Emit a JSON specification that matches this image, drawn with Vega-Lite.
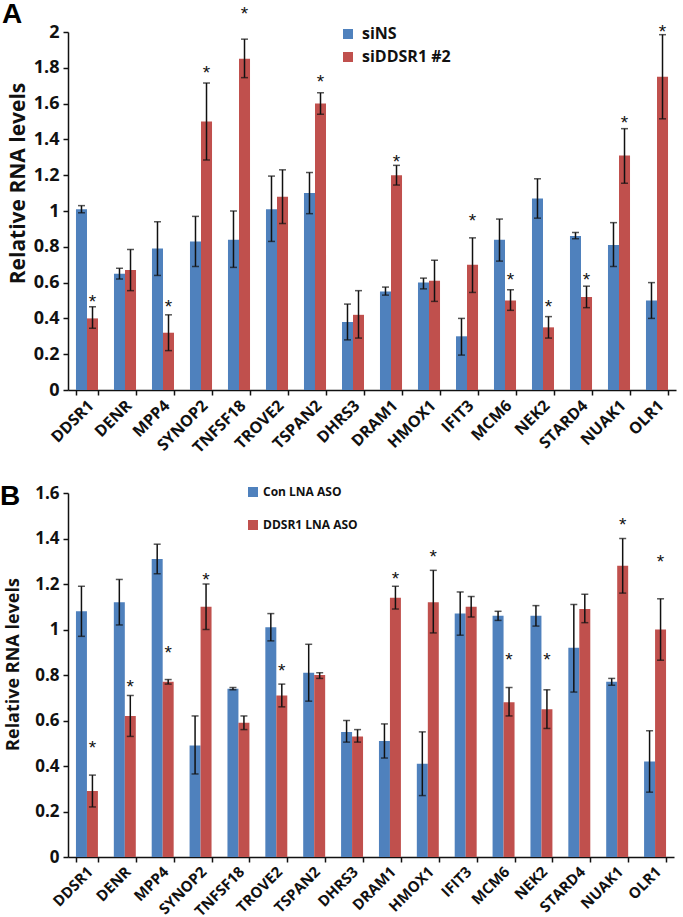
{
"$schema":"https://vega.github.io/schema/vega-lite/v6.json",
"padding":{"left":0,"top":0,"right":2,"bottom":0},
"background":"white",
"config":{"view":{"stroke":null},"axis":{"labelFont":"Open Sans","titleFont":"Open Sans","labelColor":"#111","titleColor":"#111","domainColor":"#111","tickColor":"#111","domainWidth":1.5,"tickWidth":1.5,"tickSize":5,"grid":false,"labelOverlap":false},"legend":{"labelFont":"Open Sans","labelColor":"#111"}},
"datasets":{
"A":[
{"gene":"DDSR1","group":"siNS","mean":1.01,"lo":0.99,"hi":1.03,"star":null},
{"gene":"DDSR1","group":"siDDSR1 #2","mean":0.40,"lo":0.345,"hi":0.465,"star":0.52},
{"gene":"DENR","group":"siNS","mean":0.65,"lo":0.62,"hi":0.68,"star":null},
{"gene":"DENR","group":"siDDSR1 #2","mean":0.67,"lo":0.555,"hi":0.785,"star":null},
{"gene":"MPP4","group":"siNS","mean":0.79,"lo":0.64,"hi":0.94,"star":null},
{"gene":"MPP4","group":"siDDSR1 #2","mean":0.32,"lo":0.22,"hi":0.42,"star":0.49},
{"gene":"SYNOP2","group":"siNS","mean":0.83,"lo":0.69,"hi":0.97,"star":null},
{"gene":"SYNOP2","group":"siDDSR1 #2","mean":1.50,"lo":1.285,"hi":1.715,"star":1.80},
{"gene":"TNFSF18","group":"siNS","mean":0.84,"lo":0.685,"hi":1.0,"star":null},
{"gene":"TNFSF18","group":"siDDSR1 #2","mean":1.85,"lo":1.745,"hi":1.96,"star":2.13},
{"gene":"TROVE2","group":"siNS","mean":1.01,"lo":0.83,"hi":1.195,"star":null},
{"gene":"TROVE2","group":"siDDSR1 #2","mean":1.08,"lo":0.93,"hi":1.23,"star":null},
{"gene":"TSPAN2","group":"siNS","mean":1.10,"lo":0.985,"hi":1.215,"star":null},
{"gene":"TSPAN2","group":"siDDSR1 #2","mean":1.60,"lo":1.54,"hi":1.66,"star":1.75},
{"gene":"DHRS3","group":"siNS","mean":0.38,"lo":0.28,"hi":0.48,"star":null},
{"gene":"DHRS3","group":"siDDSR1 #2","mean":0.42,"lo":0.29,"hi":0.555,"star":null},
{"gene":"DRAM1","group":"siNS","mean":0.55,"lo":0.53,"hi":0.575,"star":null},
{"gene":"DRAM1","group":"siDDSR1 #2","mean":1.20,"lo":1.145,"hi":1.255,"star":1.30},
{"gene":"HMOX1","group":"siNS","mean":0.60,"lo":0.565,"hi":0.625,"star":null},
{"gene":"HMOX1","group":"siDDSR1 #2","mean":0.61,"lo":0.495,"hi":0.725,"star":null},
{"gene":"IFIT3","group":"siNS","mean":0.30,"lo":0.195,"hi":0.40,"star":null},
{"gene":"IFIT3","group":"siDDSR1 #2","mean":0.70,"lo":0.545,"hi":0.85,"star":0.97},
{"gene":"MCM6","group":"siNS","mean":0.84,"lo":0.72,"hi":0.955,"star":null},
{"gene":"MCM6","group":"siDDSR1 #2","mean":0.50,"lo":0.445,"hi":0.56,"star":0.64},
{"gene":"NEK2","group":"siNS","mean":1.07,"lo":0.96,"hi":1.18,"star":null},
{"gene":"NEK2","group":"siDDSR1 #2","mean":0.35,"lo":0.29,"hi":0.41,"star":0.49},
{"gene":"STARD4","group":"siNS","mean":0.86,"lo":0.845,"hi":0.88,"star":null},
{"gene":"STARD4","group":"siDDSR1 #2","mean":0.52,"lo":0.46,"hi":0.58,"star":0.64},
{"gene":"NUAK1","group":"siNS","mean":0.81,"lo":0.69,"hi":0.935,"star":null},
{"gene":"NUAK1","group":"siDDSR1 #2","mean":1.31,"lo":1.155,"hi":1.46,"star":1.52},
{"gene":"OLR1","group":"siNS","mean":0.50,"lo":0.40,"hi":0.60,"star":null},
{"gene":"OLR1","group":"siDDSR1 #2","mean":1.75,"lo":1.515,"hi":1.985,"star":2.03}
],
"B":[
{"gene":"DDSR1","group":"Con LNA ASO","mean":1.08,"lo":0.97,"hi":1.19,"star":null},
{"gene":"DDSR1","group":"DDSR1 LNA ASO","mean":0.29,"lo":0.22,"hi":0.36,"star":0.50},
{"gene":"DENR","group":"Con LNA ASO","mean":1.12,"lo":1.02,"hi":1.22,"star":null},
{"gene":"DENR","group":"DDSR1 LNA ASO","mean":0.62,"lo":0.53,"hi":0.71,"star":0.77},
{"gene":"MPP4","group":"Con LNA ASO","mean":1.31,"lo":1.245,"hi":1.375,"star":null},
{"gene":"MPP4","group":"DDSR1 LNA ASO","mean":0.77,"lo":0.76,"hi":0.78,"star":0.92},
{"gene":"SYNOP2","group":"Con LNA ASO","mean":0.49,"lo":0.365,"hi":0.62,"star":null},
{"gene":"SYNOP2","group":"DDSR1 LNA ASO","mean":1.10,"lo":1.0,"hi":1.20,"star":1.24},
{"gene":"TNFSF18","group":"Con LNA ASO","mean":0.74,"lo":0.735,"hi":0.745,"star":null},
{"gene":"TNFSF18","group":"DDSR1 LNA ASO","mean":0.59,"lo":0.56,"hi":0.62,"star":null},
{"gene":"TROVE2","group":"Con LNA ASO","mean":1.01,"lo":0.95,"hi":1.07,"star":null},
{"gene":"TROVE2","group":"DDSR1 LNA ASO","mean":0.71,"lo":0.66,"hi":0.76,"star":0.84},
{"gene":"TSPAN2","group":"Con LNA ASO","mean":0.81,"lo":0.685,"hi":0.935,"star":null},
{"gene":"TSPAN2","group":"DDSR1 LNA ASO","mean":0.80,"lo":0.785,"hi":0.81,"star":null},
{"gene":"DHRS3","group":"Con LNA ASO","mean":0.55,"lo":0.505,"hi":0.60,"star":null},
{"gene":"DHRS3","group":"DDSR1 LNA ASO","mean":0.53,"lo":0.505,"hi":0.56,"star":null},
{"gene":"DRAM1","group":"Con LNA ASO","mean":0.51,"lo":0.435,"hi":0.585,"star":null},
{"gene":"DRAM1","group":"DDSR1 LNA ASO","mean":1.14,"lo":1.09,"hi":1.19,"star":1.245},
{"gene":"HMOX1","group":"Con LNA ASO","mean":0.41,"lo":0.27,"hi":0.55,"star":null},
{"gene":"HMOX1","group":"DDSR1 LNA ASO","mean":1.12,"lo":0.985,"hi":1.26,"star":1.34},
{"gene":"IFIT3","group":"Con LNA ASO","mean":1.07,"lo":0.975,"hi":1.165,"star":null},
{"gene":"IFIT3","group":"DDSR1 LNA ASO","mean":1.10,"lo":1.055,"hi":1.145,"star":null},
{"gene":"MCM6","group":"Con LNA ASO","mean":1.06,"lo":1.04,"hi":1.08,"star":null},
{"gene":"MCM6","group":"DDSR1 LNA ASO","mean":0.68,"lo":0.62,"hi":0.745,"star":0.89},
{"gene":"NEK2","group":"Con LNA ASO","mean":1.06,"lo":1.015,"hi":1.105,"star":null},
{"gene":"NEK2","group":"DDSR1 LNA ASO","mean":0.65,"lo":0.565,"hi":0.735,"star":0.89},
{"gene":"STARD4","group":"Con LNA ASO","mean":0.92,"lo":0.725,"hi":1.11,"star":null},
{"gene":"STARD4","group":"DDSR1 LNA ASO","mean":1.09,"lo":1.03,"hi":1.155,"star":null},
{"gene":"NUAK1","group":"Con LNA ASO","mean":0.77,"lo":0.755,"hi":0.785,"star":null},
{"gene":"NUAK1","group":"DDSR1 LNA ASO","mean":1.28,"lo":1.16,"hi":1.40,"star":1.48},
{"gene":"OLR1","group":"Con LNA ASO","mean":0.42,"lo":0.285,"hi":0.555,"star":null},
{"gene":"OLR1","group":"DDSR1 LNA ASO","mean":1.00,"lo":0.865,"hi":1.135,"star":1.32}
]
},
"resolve":{"scale":{"color":"independent","x":"independent","y":"independent","xOffset":"independent"}},
"spacing":27,
"vconcat":[
{
"width":608,"height":358,
"title":{"text":"A","anchor":"start","frame":"group","dx":-66,"offset":-24,"fontSize":28,"font":"Liberation Sans","fontWeight":"bold","color":"#000"},
"data":{"name":"A"},
"encoding":{
"x":{"field":"gene","type":"nominal","sort":null,"title":null,"scale":{"paddingInner":0.42,"paddingOuter":0.21},"axis":{"labelAngle":-45,"labelAlign":"right","labelBaseline":"top","labelFontSize":16,"labelFontWeight":"bold","tickBand":"extent","labelPadding":2,"labelOffset":-2}},
"xOffset":{"field":"group","type":"nominal","sort":["siNS","siDDSR1 #2"],"scale":{"paddingInner":0,"paddingOuter":0}}
},
"layer":[
{"mark":{"type":"bar"},"encoding":{
"y":{"field":"mean","type":"quantitative","title":"Relative RNA levels","scale":{"domain":[0,2],"nice":false},"axis":{"values":[0,0.2,0.4,0.6,0.8,1,1.2,1.4,1.6,1.8,2],"format":"~g","labelFontSize":18,"labelFontWeight":"bold","titleFontSize":21,"titleFontWeight":"bold","titlePadding":5,"labelPadding":4,"titleY":151,"labelOverlap":false}},
"color":{"field":"group","type":"nominal","sort":["siNS","siDDSR1 #2"],"scale":{"range":["#4F81BD","#C0504D"]},"legend":{"title":null,"orient":"none","legendX":272,"legendY":-6,"symbolType":"square","symbolSize":100,"symbolStrokeWidth":0,"labelFontSize":16,"labelFontWeight":"bold","rowPadding":7,"padding":0,"labelOffset":6}}}},
{"mark":{"type":"rule","color":"#111","strokeWidth":1.5},"encoding":{"y":{"field":"lo","type":"quantitative","title":"Relative RNA levels","axis":{"values":[0,0.2,0.4,0.6,0.8,1,1.2,1.4,1.6,1.8,2],"format":"~g","labelFontSize":18,"labelFontWeight":"bold","titleFontSize":21,"titleFontWeight":"bold","titlePadding":5,"labelPadding":4,"titleY":151,"labelOverlap":false}},"y2":{"field":"hi"}}},
{"mark":{"type":"tick","color":"#111","thickness":1.5,"size":7},"encoding":{"y":{"field":"lo","type":"quantitative","title":"Relative RNA levels","axis":{"values":[0,0.2,0.4,0.6,0.8,1,1.2,1.4,1.6,1.8,2],"format":"~g","labelFontSize":18,"labelFontWeight":"bold","titleFontSize":21,"titleFontWeight":"bold","titlePadding":5,"labelPadding":4,"titleY":151,"labelOverlap":false}}}},
{"mark":{"type":"tick","color":"#111","thickness":1.5,"size":7},"encoding":{"y":{"field":"hi","type":"quantitative","title":"Relative RNA levels","axis":{"values":[0,0.2,0.4,0.6,0.8,1,1.2,1.4,1.6,1.8,2],"format":"~g","labelFontSize":18,"labelFontWeight":"bold","titleFontSize":21,"titleFontWeight":"bold","titlePadding":5,"labelPadding":4,"titleY":151,"labelOverlap":false}}}},
{"transform":[{"filter":"datum.star != null"}],"mark":{"type":"text","text":"*","fontSize":19,"font":"Liberation Sans","baseline":"middle","dy":5,"color":"#111"},"encoding":{"y":{"field":"star","type":"quantitative","title":"Relative RNA levels","axis":{"values":[0,0.2,0.4,0.6,0.8,1,1.2,1.4,1.6,1.8,2],"format":"~g","labelFontSize":18,"labelFontWeight":"bold","titleFontSize":21,"titleFontWeight":"bold","titlePadding":5,"labelPadding":4,"titleY":151,"labelOverlap":false}}}}
]
},
{
"width":606,"height":364,
"title":{"text":"B","anchor":"start","frame":"group","dx":-68,"offset":-27,"fontSize":28,"font":"Liberation Sans","fontWeight":"bold","color":"#000"},
"data":{"name":"B"},
"encoding":{
"x":{"field":"gene","type":"nominal","sort":null,"title":null,"scale":{"paddingInner":0.42,"paddingOuter":0.21},"axis":{"labelAngle":-45,"labelAlign":"right","labelBaseline":"top","labelFontSize":15,"labelFontWeight":"bold","tickBand":"extent","labelPadding":2,"labelOffset":-2}},
"xOffset":{"field":"group","type":"nominal","sort":["Con LNA ASO","DDSR1 LNA ASO"],"scale":{"paddingInner":0,"paddingOuter":0}}
},
"layer":[
{"mark":{"type":"bar"},"encoding":{
"y":{"field":"mean","type":"quantitative","title":"Relative RNA levels","scale":{"domain":[0,1.6],"nice":false},"axis":{"values":[0,0.2,0.4,0.6,0.8,1,1.2,1.4,1.6],"format":"~g","labelFontSize":17,"labelFontWeight":"bold","titleFontSize":18,"titleFontWeight":"bold","titlePadding":12,"labelPadding":4,"titleY":171,"labelOverlap":false}},
"color":{"field":"group","type":"nominal","sort":["Con LNA ASO","DDSR1 LNA ASO"],"scale":{"range":["#4F81BD","#C0504D"]},"legend":{"title":null,"orient":"none","legendX":179,"legendY":-7,"symbolType":"square","symbolSize":100,"symbolStrokeWidth":0,"labelFontSize":12,"labelFontWeight":"bold","rowPadding":21,"padding":0,"labelOffset":4}}}},
{"mark":{"type":"rule","color":"#111","strokeWidth":1.5},"encoding":{"y":{"field":"lo","type":"quantitative","title":"Relative RNA levels","axis":{"values":[0,0.2,0.4,0.6,0.8,1,1.2,1.4,1.6],"format":"~g","labelFontSize":17,"labelFontWeight":"bold","titleFontSize":18,"titleFontWeight":"bold","titlePadding":12,"labelPadding":4,"titleY":171,"labelOverlap":false}},"y2":{"field":"hi"}}},
{"mark":{"type":"tick","color":"#111","thickness":1.5,"size":7},"encoding":{"y":{"field":"lo","type":"quantitative","title":"Relative RNA levels","axis":{"values":[0,0.2,0.4,0.6,0.8,1,1.2,1.4,1.6],"format":"~g","labelFontSize":17,"labelFontWeight":"bold","titleFontSize":18,"titleFontWeight":"bold","titlePadding":12,"labelPadding":4,"titleY":171,"labelOverlap":false}}}},
{"mark":{"type":"tick","color":"#111","thickness":1.5,"size":7},"encoding":{"y":{"field":"hi","type":"quantitative","title":"Relative RNA levels","axis":{"values":[0,0.2,0.4,0.6,0.8,1,1.2,1.4,1.6],"format":"~g","labelFontSize":17,"labelFontWeight":"bold","titleFontSize":18,"titleFontWeight":"bold","titlePadding":12,"labelPadding":4,"titleY":171,"labelOverlap":false}}}},
{"transform":[{"filter":"datum.star != null"}],"mark":{"type":"text","text":"*","fontSize":19,"font":"Liberation Sans","baseline":"middle","dy":5,"color":"#111"},"encoding":{"y":{"field":"star","type":"quantitative","title":"Relative RNA levels","axis":{"values":[0,0.2,0.4,0.6,0.8,1,1.2,1.4,1.6],"format":"~g","labelFontSize":17,"labelFontWeight":"bold","titleFontSize":18,"titleFontWeight":"bold","titlePadding":12,"labelPadding":4,"titleY":171,"labelOverlap":false}}}}
]
}
]
}
